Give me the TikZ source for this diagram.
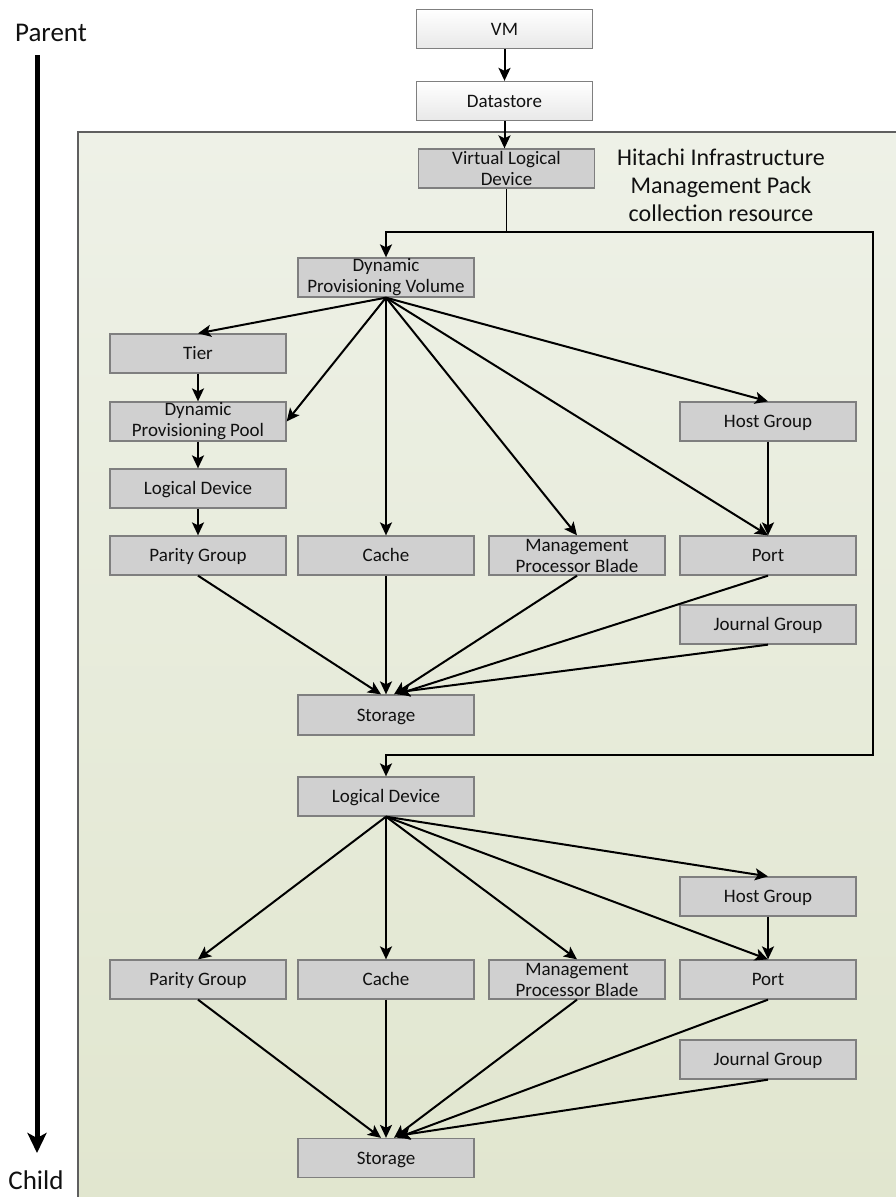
\documentclass[tikz,border=0pt]{standalone}
\usepackage{fontspec}
\setmainfont{Carlito}
\usetikzlibrary{arrows.meta}
\definecolor{boxfill}{HTML}{D0D0D0}
\definecolor{boxline}{HTML}{7F7F7F}
\definecolor{zonetop}{HTML}{EEF1E7}
\definecolor{zonebot}{HTML}{E1E6CF}
\definecolor{zoneline}{HTML}{5F5F5F}
\definecolor{txt}{HTML}{111111}

\begin{document}
\begin{tikzpicture}[x=1pt,y=-1pt,
  basebox/.style={draw=boxline, line width=1.3pt, fill=boxfill,
    minimum width=176pt, minimum height=39pt, inner sep=0pt,
    align=center, text=txt, font=\fontsize{19}{21}\selectfont},
  objbox/.style={basebox, text height=15pt, text depth=2.5pt},
  twobox/.style={basebox},
  topbox/.style={objbox, top color=white, bottom color=black!9},
  link/.style={line width=2pt, -{Stealth[length=13pt,width=12pt,inset=3pt]}},
  plain/.style={line width=1.8pt},
  label/.style={text=txt, align=center},
]
% page and collection zone
\useasboundingbox (0,0) rectangle (896,1197);
\fill[white] (0,0) rectangle (896,1197);
\fill[top color=zonetop, bottom color=zonebot] (78,132) rectangle (900,1200);
\draw[zoneline, line width=2pt] (78,1200) -- (78,132) -- (900,132);

% hierarchy axis
\node[label, font=\fontsize{27}{30}\selectfont] (parent) at (51,33) {Parent};
\node[label, font=\fontsize{27}{30}\selectfont] (child) at (36,1180) {Child};
\coordinate (axtop) at (37,55);
\coordinate (axbot) at (37,1153);
\draw[line width=5pt, -{Stealth[length=20pt,width=19pt,inset=5pt]}] (axtop) -- (axbot);

\node[label, font=\fontsize{24}{28}\selectfont] (zone) at (721,185)
  {Hitachi Infrastructure\\Management Pack\\collection resource};

% outer objects
\node[topbox] (vm) at (504.5,29) {VM};
\node[topbox] (ds) at (504.5,101) {Datastore};
\node[twobox] (vld) at (506.5,168.5) {Virtual Logical\\Device};

% provisioning volume branch
\node[twobox] (dpv) at (386,277.5) {Dynamic\\Provisioning Volume};
\node[objbox] (tier) at (198,353.5) {Tier};
\node[twobox] (dpp) at (198,421.5) {Dynamic\\Provisioning Pool};
\node[objbox] (ld1) at (198,488.5) {Logical Device};
\node[objbox] (pg1) at (198,555.5) {Parity Group};
\node[objbox] (ca1) at (386,555.5) {Cache};
\node[twobox] (mp1) at (577,555.5) {Management\\Processor Blade};
\node[objbox] (hg1) at (768,421.5) {Host Group};
\node[objbox] (po1) at (768,555.5) {Port};
\node[objbox] (jg1) at (768,624.5) {Journal Group};
\node[objbox, minimum height=40pt] (st1) at (386,715) {Storage};

% logical device branch
\node[objbox] (ld2) at (386,796.5) {Logical Device};
\node[objbox] (hg2) at (768,896.5) {Host Group};
\node[objbox] (pg2) at (198,979.5) {Parity Group};
\node[objbox] (ca2) at (386,979.5) {Cache};
\node[twobox] (mp2) at (577,979.5) {Management\\Processor Blade};
\node[objbox] (po2) at (768,979.5) {Port};
\node[objbox] (jg2) at (768,1059.5) {Journal Group};
\node[objbox] (st2) at (386,1158) {Storage};

% top chain
\draw[link] (vm) -- (ds);
\draw[link] (ds.south) -- (ds.south |- vld.north);
\coordinate (split) at (506.5,232);
\coordinate (rtop) at (873,232);
\coordinate (rbot) at (873,755);
\draw[plain] (vld.south) -- (split);
\draw[link] (split) -| (dpv.north);
\draw[link] (split) -- (rtop) -- (rbot) -| (ld2.north);

% provisioning volume links
\draw[link] (dpv.south) -- (tier.north);
\draw[link] (dpv.south) -- (dpp.east);
\draw[link] (dpv.south) -- (ca1.north);
\draw[link] (dpv.south) -- (mp1.north);
\draw[link] (dpv.south) -- (po1.north);
\draw[link] (dpv.south) -- (hg1.north);
\draw[link] (tier) -- (dpp);
\draw[link] (dpp) -- (ld1);
\draw[link] (ld1) -- (pg1);
\draw[link] (hg1) -- (po1);
\draw[link] (pg1.south) -- ([xshift=-5pt]st1.north);
\draw[link] (ca1.south) -- (st1.north);
\draw[link] (mp1.south) -- ([xshift=8pt]st1.north);
\draw[link] (po1.south) -- ([xshift=11pt]st1.north);
\draw[link] (jg1.south) -- ([xshift=11pt,yshift=2pt]st1.north);

% logical device links
\draw[link] (ld2.south) -- (pg2.north);
\draw[link] (ld2.south) -- (ca2.north);
\draw[link] (ld2.south) -- (mp2.north);
\draw[link] (ld2.south) -- (po2.north);
\draw[link] (ld2.south) -- (hg2.north);
\draw[link] (hg2) -- (po2);
\draw[link] (pg2.south) -- ([xshift=-5pt]st2.north);
\draw[link] (ca2.south) -- (st2.north);
\draw[link] (mp2.south) -- ([xshift=8pt]st2.north);
\draw[link] (po2.south) -- ([xshift=11pt]st2.north);
\draw[link] (jg2.south) -- ([xshift=11pt,yshift=2pt]st2.north);
\end{tikzpicture}
\end{document}
